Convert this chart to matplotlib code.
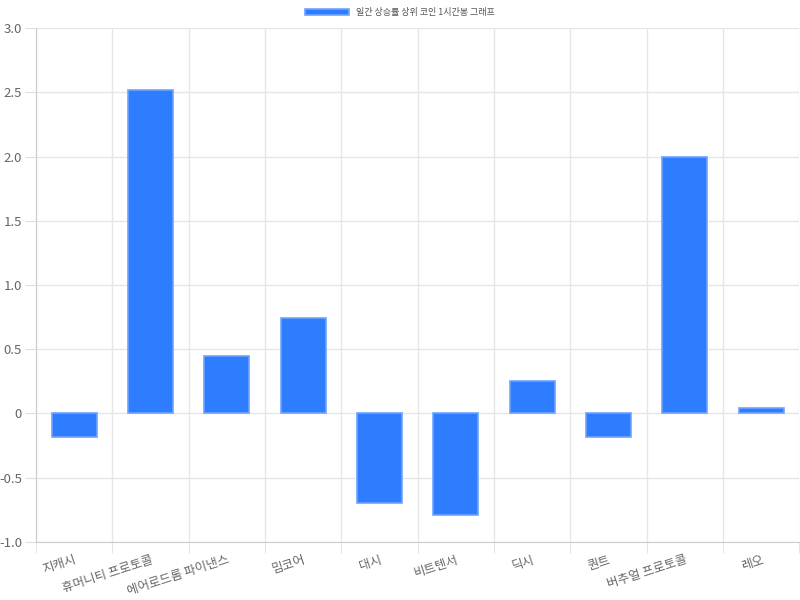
import numpy as np
import matplotlib.pyplot as plt
from matplotlib.ticker import FuncFormatter

plt.rcParams['font.family'] = ['Noto Sans CJK KR', 'DejaVu Sans']

coins = ["지캐시", "휴머니티 프로토콜", "에어로드롬 파이낸스", "밈코어", "대시",
         "비트텐서", "딕시", "퀀트", "버추얼 프로토콜", "레오"]
changes = [-0.18, 2.52, 0.45, 0.74, -0.70, -0.79, 0.25, -0.18, 2.0, 0.04]
series_label = "일간 상승률 상위 코인 1시간봉 그래프"

fig = plt.figure(figsize=(8, 6), dpi=100)
ax = fig.add_axes([0.045, 0.0967, 0.954, 0.8566])

x = np.arange(len(coins))
ax.bar(x, changes, width=0.59, color="#2e7dff", edgecolor="#6ea3ff",
       linewidth=1.2, label=series_label, zorder=3)

ax.set_xlim(-0.5, len(coins) - 0.5)
ax.set_ylim(-1.0, 3.0)
ax.set_yticks(np.arange(-1.0, 3.01, 0.5))
ax.yaxis.set_major_formatter(FuncFormatter(lambda v, p: "0" if abs(v) < 1e-9 else f"{v:.1f}"))

ax.set_xticks(x)
ax.set_xticklabels(coins, rotation=18, ha="right", rotation_mode="anchor")
ax.set_xticks(np.arange(-0.5, len(coins), 1.0), minor=True)
ax.tick_params(axis="x", which="major", length=0, pad=8, labelsize=9, labelcolor="#666666")
ax.tick_params(axis="x", which="minor", length=8, color="#dddddd")
ax.tick_params(axis="y", length=8, color="#dddddd", labelsize=9.5, labelcolor="#666666", pad=2)

ax.grid(True, which="minor", axis="x", color="#e6e6e6", linewidth=1, zorder=0)
ax.grid(True, which="major", axis="y", color="#e6e6e6", linewidth=1, zorder=0)

for side in ("top", "right"):
    ax.spines[side].set_visible(False)
for side in ("left", "bottom"):
    ax.spines[side].set_color("#cccccc")

leg = fig.legend(loc="upper center", bbox_to_anchor=(0.5, 1.0), frameon=False,
                 fontsize=6.5, handlelength=4.8, handleheight=0.8)
for t in leg.get_texts():
    t.set_color("#555555")

fig.savefig("out.png", dpi=100)
